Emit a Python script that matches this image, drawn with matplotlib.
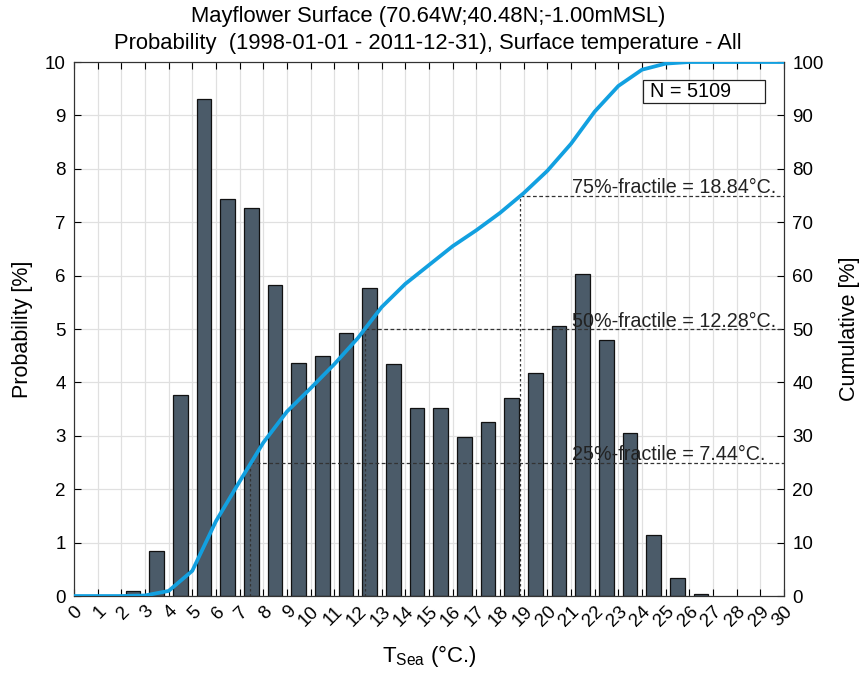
import matplotlib
matplotlib.use("Agg")
import matplotlib.pyplot as plt
from matplotlib.patches import Rectangle
import numpy as np

plt.rcParams['font.family'] = ['Liberation Sans', 'DejaVu Sans']
plt.rcParams['mathtext.fontset'] = 'custom'
plt.rcParams['mathtext.rm'] = 'Liberation Sans'
plt.rcParams['mathtext.it'] = 'Liberation Sans'

# Data
bin_centers = [2.5, 3.5, 4.5, 5.5, 6.5, 7.5, 8.5, 9.5, 10.5, 11.5, 12.5, 13.5, 14.5,
               15.5, 16.5, 17.5, 18.5, 19.5, 20.5, 21.5, 22.5, 23.5, 24.5, 25.5, 26.5]
probability = [0.10, 0.85, 3.77, 9.30, 7.43, 7.27, 5.82, 4.37, 4.50, 4.92, 5.77, 4.35, 3.53,
               3.53, 2.98, 3.25, 3.70, 4.18, 5.06, 6.03, 4.80, 3.05, 1.14, 0.33, 0.03]
cum_x = list(range(0, 31))
cumulative = [0, 0, 0, 0.10, 0.95, 4.72, 14.02, 21.45, 28.72, 34.54, 38.91, 43.41, 48.33,
              54.10, 58.45, 61.98, 65.51, 68.49, 71.74, 75.44, 79.62, 84.68, 90.71, 95.51,
              98.56, 99.70, 100.0, 100.0, 100.0, 100.0, 100.0]
fractile_pct = [25, 50, 75]
fractile_val = [7.44, 12.28, 18.84]
fractile_labels = ['25%-fractile = 7.44°C.', '50%-fractile = 12.28°C.', '75%-fractile = 18.84°C.']
n_text = 'N = 5109'
xticks = list(range(0, 31))

fig = plt.figure(figsize=(8.64, 6.74), dpi=100)
ax = fig.add_axes([0.0856, 0.1157, 0.8218, 0.7923])
ax.set_xlim(0, 30)
ax.set_ylim(0, 10)
ax.set_xticks(xticks)
ax.set_xticklabels([str(t) for t in xticks], rotation=45, ha='right', va='top',
                   rotation_mode='anchor', fontsize=13.5)
ax.set_yticks(range(0, 11))
ax.tick_params(axis='y', labelsize=13.5, pad=6)
ax.grid(True, color='#e0e0e0', lw=0.9)
ax.set_axisbelow(True)
ax.tick_params(direction='in', top=True, length=5, width=0.8)
ax.tick_params(axis='x', pad=5)
ax.bar(bin_centers, probability, width=0.62, color='#4b5b69', edgecolor='#111111', lw=0.9, zorder=2)
ax.set_ylabel('Probability [%]', fontsize=15.5)
ax.yaxis.set_label_coords(-0.058, 0.5)
ax.set_xlabel('T$_{\\mathrm{Sea}}$ (°C.)', fontsize=16)
ax.xaxis.set_label_coords(0.5, -0.088)
for s in ax.spines.values():
    s.set_linewidth(0.8)
    s.set_color('#333333')

ax2 = ax.twinx()
ax2.set_ylim(0, 100)
ax2.set_yticks(range(0, 101, 10))
ax2.tick_params(direction='in', length=5, width=0.8, labelsize=13.5, pad=6)
ax2.set_ylabel('Cumulative [%]', fontsize=15.5)
ax2.yaxis.set_label_coords(1.077, 0.5)
for s in ax2.spines.values():
    s.set_linewidth(0.8)
    s.set_color('#333333')
ax2.plot(cum_x, cumulative, color='#12a0e0', lw=2.7, zorder=3)
for p, v, lab in zip(fractile_pct, fractile_val, fractile_labels):
    ax2.plot([v, 30], [p, p], color='#333333', lw=0.9, ls=(0, (3, 2)), zorder=2)
    ax2.plot([v, v], [0, p], color='#333333', lw=0.9, ls=(0, (2, 2)), zorder=2)
    ax2.text(21.04, p + 0.45, lab, fontsize=14.2, ha='left', va='baseline', color='#222222')

ax2.add_patch(Rectangle((24.04, 92.3), 5.15, 4.3, fc='white', ec='#222222', lw=0.9, zorder=4))
ax2.text(24.35, 94.45, n_text, fontsize=14.3, ha='left', va='center', zorder=5)

fig.text(0.4954, 0.975, 'Mayflower Surface (70.64W;40.48N;-1.00mMSL)', ha='center', va='center', fontsize=15.8)
fig.text(0.4954, 0.936, 'Probability  (1998-01-01 - 2011-12-31), Surface temperature - All', ha='center', va='center', fontsize=15.8)

fig.savefig('out.png', dpi=100)
